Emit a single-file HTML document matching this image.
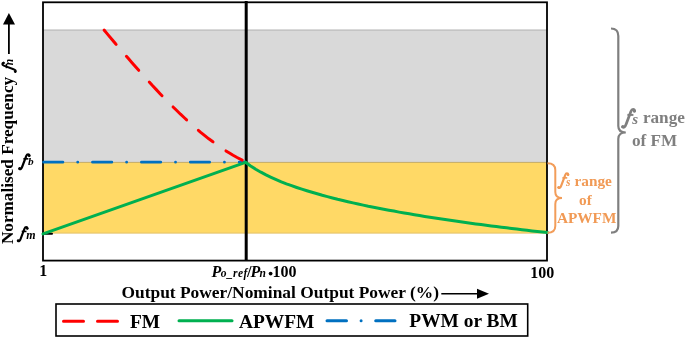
<!DOCTYPE html>
<html><head><meta charset="utf-8">
<style>
html,body{margin:0;padding:0;background:#fff;}
body{width:685px;height:338px;overflow:hidden;}
svg{display:block;will-change:transform;}
text{font-family:"Liberation Serif",serif;font-weight:bold;}
.i{font-style:italic;}
</style></head>
<body>
<svg width="685" height="338" viewBox="0 0 685 338">
<defs>
<g id="ff">
<path d="M13.6,2.4 C13.4,0.5 11.0,0.0 9.9,2.8 L5.0,15.8 C4.2,18.2 2.8,19.4 1.5,18.4" fill="none" stroke="currentColor" stroke-width="2.7" stroke-linecap="round"/>
<circle cx="13.4" cy="2.5" r="1.6" fill="currentColor"/>
<circle cx="1.9" cy="17.9" r="1.6" fill="currentColor"/>
<path d="M6.4,6.3 L12.4,6.3" stroke="currentColor" stroke-width="2.0"/>
</g>
</defs>
<!-- bands -->
<rect x="43" y="29.7" width="504" height="133" fill="#d9d9d9"/>
<line x1="43" y1="30.2" x2="547" y2="30.2" stroke="#bdbdbd" stroke-width="1.3"/>
<rect x="43" y="162.3" width="504" height="71" fill="#ffd966"/>
<line x1="43" y1="162.4" x2="547" y2="162.4" stroke="#b8a060" stroke-width="0.8"/>
<line x1="43" y1="233.1" x2="547" y2="233.1" stroke="#dcbc6a" stroke-width="0.8"/>
<!-- fm tick -->
<line x1="43" y1="233.8" x2="52" y2="233.8" stroke="#000" stroke-width="2" stroke-linecap="round"/>
<!-- plot frame -->
<rect x="43" y="2.3" width="504" height="258.3" fill="none" stroke="#000" stroke-width="1.8"/>
<!-- vertical line -->
<line x1="246.2" y1="1" x2="246.2" y2="261" stroke="#000" stroke-width="3"/>
<!-- blue dash-dot -->
<line x1="43.6" y1="162.2" x2="245" y2="162.2" stroke="#0070c0" stroke-width="2.8" stroke-linecap="round" stroke-dasharray="19.3 14.8 0.01 14.8"/>
<!-- red dashed curve -->
<polyline points="103.7,29.6 107.7,34.4 111.8,39.2 115.8,44.0 119.9,48.7 123.9,53.4 128.0,58.1 132.0,62.7 136.0,67.3 140.1,71.9 144.1,76.4 148.2,80.9 152.2,85.3 156.3,89.6 160.3,93.9 164.3,98.1 168.4,102.3 172.4,106.3 176.5,110.3 180.5,114.2 184.6,118.0 188.6,121.7 192.6,125.4 196.7,128.9 200.7,132.3 204.8,135.6 208.8,138.8 212.9,141.8 216.9,144.8 220.9,147.6 225.0,150.3 229.0,152.8 233.1,155.3 237.1,157.5 241.2,159.6 245.2,161.6" fill="none" stroke="#ff0000" stroke-width="3" stroke-linecap="round" stroke-linejoin="round" stroke-dasharray="18.7 15.75" stroke-dashoffset="-0.6"/>
<!-- green -->
<polyline points="43,233.9 245.5,162.3" fill="none" stroke="#00b050" stroke-width="3" stroke-linecap="round"/>
<polyline points="245.5,162.3 250.6,166.0 255.7,169.2 260.9,172.2 266.0,174.9 271.1,177.3 276.2,179.6 281.3,181.8 286.4,183.8 291.6,185.7 296.7,187.5 301.8,189.2 306.9,190.8 312.0,192.3 317.2,193.8 322.3,195.3 327.4,196.6 332.5,198.0 337.6,199.3 342.8,200.5 347.9,201.7 353.0,202.9 358.1,204.0 363.2,205.1 368.3,206.2 373.5,207.2 378.6,208.2 383.7,209.2 388.8,210.2 393.9,211.1 399.1,212.1 404.2,213.0 409.3,213.8 414.4,214.7 419.5,215.6 424.7,216.4 429.8,217.2 434.9,218.0 440.0,218.8 445.1,219.6 450.2,220.3 455.4,221.1 460.5,221.8 465.6,222.5 470.7,223.2 475.8,223.9 481.0,224.6 486.1,225.3 491.2,225.9 496.3,226.6 501.4,227.2 506.6,227.8 511.7,228.5 516.8,229.1 521.9,229.7 527.0,230.3 532.1,230.9 537.3,231.4 542.4,232.0 547.5,232.6" fill="none" stroke="#00b050" stroke-width="3" stroke-linejoin="round" stroke-linecap="round"/>

<!-- y axis label -->
<g transform="translate(12.6,244.1) rotate(-90)"><text x="0" y="0" font-size="17.2">Normalised Frequency</text></g>
<use href="#ff" color="#000" transform="translate(1.7,73.0) rotate(-90) scale(0.75)"/>
<g transform="translate(13,65.15) rotate(-90)"><text x="0" y="0" font-size="11.5" class="i">n</text></g>
<line x1="8.9" y1="54" x2="8.9" y2="22" stroke="#000" stroke-width="1.8"/>
<path d="M8.9,13 L3,24.6 L15,24.6 Z" fill="#000"/>

<!-- fb fm -->
<use href="#ff" color="#000" transform="translate(18.08,153.58) scale(0.83)"/>
<text x="28.1" y="165.1" font-size="11.3" class="i">b</text>
<use href="#ff" color="#000" transform="translate(16.68,226.45) scale(0.79)"/>
<text x="26.35" y="238.7" font-size="12" class="i">m</text>

<!-- x ticks -->
<text x="39.35" y="276.4" font-size="16">1</text>
<text x="211.6" y="277.3" font-size="16" class="i">P</text>
<text x="220.7" y="277.3" font-size="11.5" class="i" letter-spacing="0.45">o_ref</text>
<text x="247.1" y="277" font-size="16.5">/</text>
<text x="250.6" y="277.3" font-size="16" class="i">P</text>
<text x="259.5" y="277" font-size="11.5" class="i">n</text>
<circle cx="270.6" cy="273.6" r="1.9" fill="#000"/>
<text x="272.4" y="277.4" font-size="16">100</text>
<text x="530.15" y="277.5" font-size="16">100</text>

<!-- x axis title -->
<text x="121.5" y="297.7" font-size="17.4">Output Power/Nominal Output Power (%)</text>
<line x1="441.3" y1="293.7" x2="480" y2="293.7" stroke="#000" stroke-width="1.6"/>
<path d="M489,293.7 L477,288.8 L477,298.8 Z" fill="#000"/>

<!-- legend -->
<rect x="56" y="304" width="471.7" height="32" fill="none" stroke="#000" stroke-width="1.6"/>
<line x1="63.5" y1="321.2" x2="118" y2="321.2" stroke="#ff0000" stroke-width="3" stroke-linecap="round" stroke-dasharray="20 14"/>
<text x="130" y="327.6" font-size="19.4">FM</text>
<line x1="179" y1="320.8" x2="232" y2="320.8" stroke="#00b050" stroke-width="3" stroke-linecap="round"/>
<text x="239" y="327.6" font-size="19.4">APWFM</text>
<line x1="327" y1="320.8" x2="395" y2="320.8" stroke="#0070c0" stroke-width="3" stroke-linecap="round" stroke-dasharray="19.5 14.6 0.01 14.6"/>
<text x="409.3" y="326.6" font-size="19.4">PWM or BM</text>

<!-- gray brace -->
<path d="M611,28.5 Q618.3,28.5 618.3,36 L618.3,126 Q618.3,132.5 625.8,132.5 Q618.3,132.5 618.3,139 L618.3,226 Q618.3,232.6 611,232.6" fill="none" stroke="#7f7f7f" stroke-width="2.2"/>
<use href="#ff" color="#7f7f7f" transform="translate(621,108.6)"/>
<text x="632.3" y="123.5" font-size="15" class="i" fill="#7f7f7f">s</text>
<text x="642.9" y="123.4" font-size="17.2" fill="#7f7f7f">range</text>
<text x="631.9" y="146.3" font-size="17.2" fill="#7f7f7f">of FM</text>

<!-- orange brace -->
<path d="M547.5,163.2 Q555.3,163.2 555.3,170 L555.3,192 Q555.3,198 562,198 Q555.3,198 555.3,204 L555.3,226 Q555.3,232.8 547.5,232.8" fill="none" stroke="#f29d5a" stroke-width="2"/>
<use href="#ff" color="#f19a55" transform="translate(557.18,172.77) scale(0.81)"/>
<text x="566" y="185.7" font-size="11.5" class="i" fill="#f19a55">s</text>
<text x="574.5" y="185.7" font-size="15.3" fill="#f19a55">range</text>
<text x="579.1" y="204.6" font-size="15.3" fill="#f19a55">of</text>
<text x="556.9" y="223" font-size="15.3" fill="#f19a55">APWFM</text>
</svg>
</body></html>
